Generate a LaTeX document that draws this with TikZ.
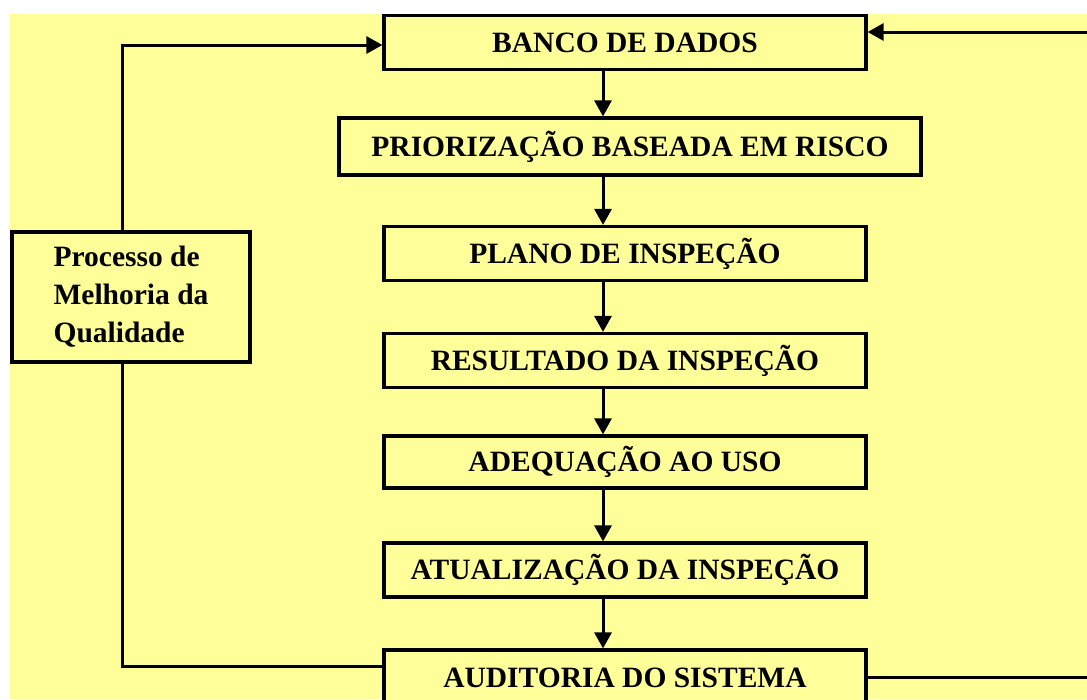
\documentclass[tikz,border=0pt]{standalone}
\usepackage{fontspec}
\setmainfont{Liberation Serif}
\usetikzlibrary{arrows.meta}
\definecolor{bgyellow}{HTML}{FFFF99}
\tikzset{
  stepbox/.style={draw=black, line width=3.2pt, fill=bgyellow, rectangle,
    minimum width=482pt, minimum height=54pt, inner sep=0pt,
    font=\fontsize{29.5}{36}\selectfont\bfseries},
  conn/.style={draw=black, line width=3pt},
  arr/.style={conn, -{Triangle[length=16pt,width=17pt]}}
}
\begin{document}
\begin{tikzpicture}[x=1pt,y=-1pt]
\useasboundingbox (0,0) rectangle (1087,699);
\clip (0,0) rectangle (1087,699);
\fill[white] (0,0) rectangle (1087,699);
\fill[bgyellow] (10,14) rectangle (1087,699);

\node[stepbox] (banco) at (625,42.5) {BANCO DE DADOS};
\node[stepbox, minimum width=582pt, minimum height=57pt] (prior) at (630,146.5) {PRIORIZAÇÃO BASEADA EM RISCO};
\node[stepbox] (plano) at (625,253.5) {PLANO DE INSPEÇÃO};
\node[stepbox] (result) at (625,360.5) {RESULTADO DA INSPEÇÃO};
\node[stepbox, minimum height=52pt] (adeq) at (625,462) {ADEQUAÇÃO AO USO};
\node[stepbox] (atual) at (625,570) {ATUALIZAÇÃO DA INSPEÇÃO};
\node[stepbox, minimum height=56pt] (audit) at (625,678) {\raisebox{-3pt}{AUDITORIA DO SISTEMA}};

\node[draw=black, line width=3.2pt, fill=bgyellow, rectangle, minimum width=238pt,
  minimum height=130pt, inner sep=0pt, align=left,
  font=\fontsize{29.5}{38}\selectfont\bfseries] (proc) at (131,297)
  {Processo de\\Melhoria da\\Qualidade};

\coordinate (ax) at (603,0);
\draw[arr] (banco.south -| ax) -- (prior.north -| ax);
\draw[arr] (prior.south -| ax) -- (plano.north -| ax);
\draw[arr] (plano.south -| ax) -- (result.north -| ax);
\draw[arr] (result.south -| ax) -- (adeq.north -| ax);
\draw[arr] (adeq.south -| ax) -- (atual.north -| ax);
\draw[arr] (atual.south -| ax) -- (audit.north -| ax);

\coordinate (lx) at (122,0);
\coordinate (ly1) at (0,45);
\coordinate (ly2) at (0,666);
\draw[arr] (proc.north -| lx) -- (lx |- ly1) -- (banco.west |- ly1);
\draw[conn] (proc.south -| lx) -- (lx |- ly2) -- (audit.west |- ly2);

\coordinate (rx) at (1100,0);
\coordinate (ry1) at (0,32);
\coordinate (ry2) at (0,677);
\draw[arr] (audit.east |- ry2) -- (rx |- ry2) -- (rx |- ry1) -- (banco.east |- ry1);
\end{tikzpicture}
\end{document}
